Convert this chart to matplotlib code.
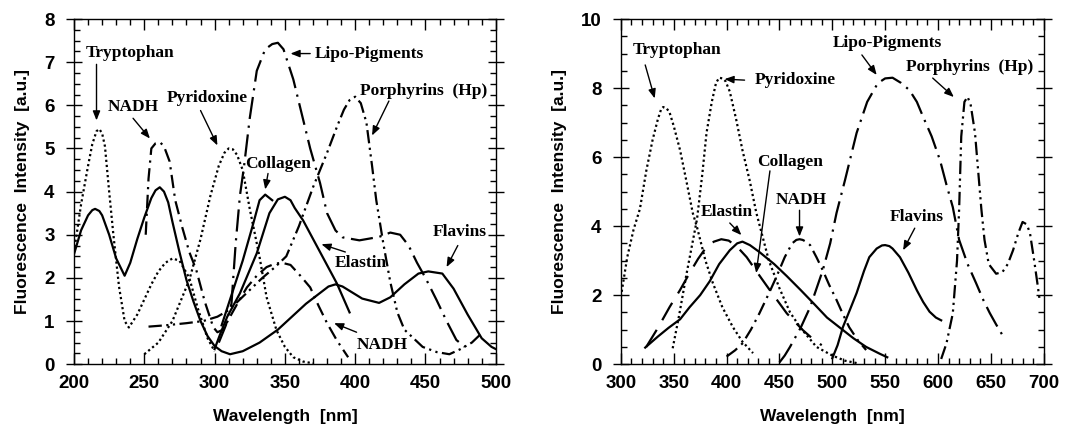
import numpy as np
import matplotlib.pyplot as plt
from matplotlib.ticker import MultipleLocator

# ---- left panel: absorption ----
trp_a_nm = [200, 205, 210, 213, 216, 218, 220, 222, 225, 228, 232, 236, 239, 245, 250, 255, 260, 265, 270, 275, 282, 288, 295, 300]
trp_a = [2.6, 3.7, 4.6, 5.1, 5.4, 5.45, 5.35, 5.05, 4.0, 3.0, 1.8, 1.0, 0.85, 1.15, 1.5, 1.85, 2.15, 2.35, 2.45, 2.4, 2.0, 1.3, 0.6, 0.3]

pyr_a_nm = [250, 260, 270, 282, 290, 297, 303, 307, 310, 313, 316, 320, 325, 332, 337, 344, 350, 356, 363, 370]
pyr_a = [0.23, 0.5, 1.0, 1.95, 2.9, 3.9, 4.6, 4.9, 5.0, 4.98, 4.85, 4.5, 3.6, 2.48, 1.55, 0.79, 0.4, 0.16, 0.06, 0.02]

nadh_a_nm = [251, 253, 255, 258, 261, 264, 268, 272, 277, 282, 287, 293, 299, 302, 306, 311, 317, 323, 330, 337, 343, 348, 354, 361, 368, 374, 380, 387, 395]
nadh_a = [3.0, 4.3, 5.0, 5.12, 5.15, 5.05, 4.7, 3.8, 3.17, 2.6, 2.18, 1.45, 0.86, 0.74, 0.8, 1.1, 1.45, 1.78, 2.05, 2.25, 2.33, 2.35, 2.3, 2.05, 1.78, 1.35, 0.95, 0.55, 0.16]

flav_a_nm = [200, 205, 210, 213, 215, 218, 220, 225, 230, 236, 240, 245, 250, 255, 258, 261, 264, 267, 270, 275, 280, 285, 290, 295, 300, 305, 311, 320, 332, 345, 355, 365, 375, 381, 386, 391, 395, 405, 417, 425, 435, 445, 452, 462, 470, 480, 490, 497, 500]
flav_a = [2.55, 3.1, 3.45, 3.57, 3.6, 3.55, 3.45, 3.0, 2.45, 2.05, 2.35, 2.9, 3.4, 3.85, 4.03, 4.1, 4.0, 3.75, 3.3, 2.6, 1.95, 1.45, 1.0, 0.65, 0.42, 0.3, 0.23, 0.3, 0.5, 0.8, 1.1, 1.4, 1.65, 1.8, 1.85, 1.8, 1.72, 1.52, 1.42, 1.55, 1.85, 2.1, 2.15, 2.1, 1.75, 1.15, 0.6, 0.4, 0.35]

coll_a_nm = [305, 312, 320, 327, 332, 336, 341]
coll_a = [0.9, 1.6, 2.4, 3.2, 3.8, 3.93, 3.8]

elas_a_nm = [300, 304, 309, 318, 330, 339, 345, 350, 354, 357, 363, 375, 387, 396]
elas_a = [0.35, 0.7, 1.1, 1.64, 2.57, 3.5, 3.82, 3.88, 3.8, 3.62, 3.33, 2.6, 1.87, 1.2]

lipo_a_nm = [303, 308, 312, 315, 318, 321, 325, 330, 336, 341, 345, 349, 352, 356, 362, 368, 375, 380, 386, 391, 403, 417, 425, 432, 438, 444, 450, 458, 465, 472, 478]
lipo_a = [0.5, 0.9, 1.4, 2.8, 3.9, 4.6, 5.7, 6.8, 7.3, 7.42, 7.45, 7.3, 7.0, 6.6, 5.8, 5.0, 4.2, 3.5, 3.1, 2.94, 2.87, 2.95, 3.05, 3.0, 2.75, 2.35, 2.0, 1.48, 1.0, 0.56, 0.4]

porph_a_nm = [253, 265, 280, 292, 302, 310, 318, 326, 334, 343, 351, 360, 370, 380, 387, 392, 396, 400, 404, 408, 412, 415, 420, 425, 430, 435, 448, 458, 467, 475, 483, 491]
porph_a = [0.87, 0.9, 0.95, 1.0, 1.1, 1.25, 1.5, 1.75, 2.0, 2.25, 2.5, 3.2, 4.1, 4.9, 5.5, 5.9, 6.12, 6.2, 6.05, 5.6, 4.6, 3.8, 2.8, 1.9, 1.2, 0.8, 0.4, 0.28, 0.23, 0.35, 0.5, 0.75]

# ---- right panel: emission ----
trp_e_nm = [300, 306, 312, 318, 324, 330, 335, 338, 340, 343, 346, 350, 356, 362, 368, 372, 380, 387, 396, 406, 415, 425]
trp_e = [1.95, 3.1, 3.9, 4.5, 5.6, 6.5, 7.1, 7.38, 7.45, 7.42, 7.3, 6.9, 6.2, 5.3, 4.38, 3.97, 3.0, 2.35, 1.65, 1.07, 0.65, 0.32]

pyr_e_nm = [349, 355, 362, 367, 372, 377, 381, 386, 390, 393, 396, 399, 403, 409, 415, 422, 428, 434, 440, 450, 460, 470, 485, 500, 512, 525]
pyr_e = [0.46, 1.4, 2.6, 3.4, 4.2, 5.5, 6.7, 7.6, 8.15, 8.3, 8.28, 8.2, 7.9, 7.1, 6.2, 5.3, 4.4, 3.7, 3.0, 2.2, 1.5, 1.05, 0.5, 0.25, 0.1, 0.02]

coll_e_nm = [324, 335, 346, 356, 365, 373, 381, 388, 395, 402, 410, 419, 428, 441, 457, 472, 482, 490]
coll_e = [0.5, 1.05, 1.65, 2.15, 2.64, 3.05, 3.4, 3.55, 3.62, 3.58, 3.4, 3.1, 2.7, 2.14, 1.47, 0.99, 0.72, 0.55]

elas_e_nm = [323, 335, 345, 356, 365, 375, 384, 393, 403, 410, 415, 422, 431, 445, 457, 470, 482, 495, 510, 520, 532, 545, 552]
elas_e = [0.48, 0.8, 1.05, 1.3, 1.65, 2.0, 2.4, 2.9, 3.3, 3.5, 3.55, 3.45, 3.25, 2.9, 2.55, 2.15, 1.77, 1.35, 0.99, 0.75, 0.5, 0.3, 0.2]

nadh_e_nm = [400, 408, 415, 423, 431, 440, 447, 455, 462, 466, 469, 472, 475, 479, 485, 491, 497, 504, 510, 516, 524, 532]
nadh_e = [0.22, 0.4, 0.6, 1.0, 1.47, 2.05, 2.52, 3.1, 3.5, 3.6, 3.62, 3.6, 3.55, 3.45, 3.1, 2.72, 2.3, 1.86, 1.45, 1.07, 0.7, 0.41]

flav_e_nm = [500, 505, 510, 517, 523, 530, 535, 542, 547, 550, 554, 557, 564, 572, 580, 586, 592, 598, 603]
flav_e = [0.17, 0.55, 1.07, 1.6, 2.06, 2.7, 3.1, 3.35, 3.44, 3.45, 3.42, 3.35, 3.1, 2.65, 2.14, 1.8, 1.52, 1.35, 1.27]

lipo_e_nm = [450, 455, 460, 470, 479, 491, 498, 504, 512, 523, 533, 543, 550, 557, 565, 573, 580, 586, 594, 602, 608, 614, 620, 628, 636, 643, 649, 655, 661]
lipo_e = [0.05, 0.25, 0.5, 1.05, 1.65, 2.72, 3.5, 4.38, 5.33, 6.7, 7.6, 8.14, 8.28, 8.3, 8.15, 7.94, 7.6, 7.16, 6.6, 5.9, 5.2, 4.55, 3.6, 2.9, 2.35, 1.85, 1.48, 1.15, 0.84]

porph_e_nm = [603, 608, 614, 618, 620, 622, 625, 628, 631, 635, 638, 641, 644, 648, 655, 661, 666, 671, 676, 680, 684, 687, 691, 694, 696]
porph_e = [0.15, 0.6, 1.47, 3.0, 4.5, 6.6, 7.6, 7.75, 7.5, 6.7, 5.6, 4.5, 3.6, 2.9, 2.62, 2.67, 2.9, 3.3, 3.8, 4.12, 4.05, 3.8, 3.0, 2.35, 1.9]

# line styles
DOT = (0, (1, 1.3))
DASHDOT = (0, (6, 2.5, 1, 2.5))
LONGDASH = (0, (9, 5))
LIPO = (0, (10, 3, 1, 3))
DASHDOTDOT = (0, (6, 2, 1, 2, 1, 2))

sans = ['Liberation Sans', 'DejaVu Sans']
serif = ['Liberation Serif', 'DejaVu Serif']

fig = plt.figure(figsize=(10.65, 4.33), dpi=100)
ax1 = fig.add_axes([0.0695, 0.159, 0.396, 0.797])
ax2 = fig.add_axes([0.583, 0.159, 0.397, 0.797])

lw = 1.6
k = 'black'
ax1.plot(trp_a_nm, trp_a, color=k, lw=lw, ls=DOT)
ax1.plot(pyr_a_nm, pyr_a, color=k, lw=lw, ls=DOT)
ax1.plot(nadh_a_nm, nadh_a, color=k, lw=lw, ls=DASHDOT)
ax1.plot(flav_a_nm, flav_a, color=k, lw=lw)
ax1.plot(coll_a_nm, coll_a, color=k, lw=lw)
ax1.plot(elas_a_nm, elas_a, color=k, lw=lw)
ax1.plot(lipo_a_nm, lipo_a, color=k, lw=lw, ls=LIPO)
ax1.plot(porph_a_nm, porph_a, color=k, lw=lw, ls=DASHDOTDOT)

ax2.plot(trp_e_nm, trp_e, color=k, lw=lw, ls=DOT)
ax2.plot(pyr_e_nm, pyr_e, color=k, lw=lw, ls=DOT)
ax2.plot(coll_e_nm, coll_e, color=k, lw=lw, ls=LONGDASH)
ax2.plot(elas_e_nm, elas_e, color=k, lw=lw)
ax2.plot(nadh_e_nm, nadh_e, color=k, lw=lw, ls=DASHDOT)
ax2.plot(flav_e_nm, flav_e, color=k, lw=lw)
ax2.plot(lipo_e_nm, lipo_e, color=k, lw=lw, ls=LIPO)
ax2.plot(porph_e_nm, porph_e, color=k, lw=lw, ls=DASHDOTDOT)

# labels: (text, text pos, arrow tail, arrow head)
left_notes = [
    ("Tryptophan", (240, 7.22), (216, 6.95), (216, 5.65)),
    ("NADH", (242, 5.95), (242, 5.7), (254, 5.23)),
    ("Pyridoxine", (295, 6.16), (290, 5.88), (302, 5.07)),
    ("Lipo-Pigments", (410, 7.2), (368, 7.2), (354, 7.2)),
    ("Porphyrins  (Hp)", (449, 6.34), (424, 6.1), (412, 5.3)),
    ("Collagen", (345, 4.65), (338, 4.42), (336, 4.05)),
    ("Elastin", (404, 2.34), (393, 2.6), (376, 2.78)),
    ("Flavins", (474, 3.06), (473, 2.75), (465, 2.25)),
    ("NADH", (419, 0.44), (401, 0.74), (385, 0.95)),
]
right_notes = [
    ("Tryptophan", (353, 9.1), (323, 8.67), (332, 7.7)),
    ("Pyridoxine", (465, 8.23), (417, 8.23), (398, 8.26)),
    ("Lipo-Pigments", (552, 9.3), (528, 8.96), (542, 8.38)),
    ("Porphyrins  (Hp)", (630, 8.6), (595, 8.29), (615, 7.74)),
    ("Collagen", (460, 5.86), (441, 5.6), (428, 2.64)),
    ("NADH", (471, 4.75), (469, 4.46), (469, 3.7)),
    ("Elastin", (400, 4.4), (403, 4.09), (414, 3.74)),
    ("Flavins", (580, 4.26), (578, 3.94), (567, 3.3)),
]

for ax, notes in ((ax1, left_notes), (ax2, right_notes)):
    for txt, tpos, tail, head in notes:
        ax.text(tpos[0], tpos[1], txt, ha='center', va='center', fontsize=12.5,
                fontweight='bold', family=serif)
        ax.annotate('', xy=head, xytext=tail,
                    arrowprops=dict(arrowstyle='-|>,head_length=0.55,head_width=0.22',
                                    color=k, lw=1.0, shrinkA=0, shrinkB=0))

ax1.set_xlim(200, 500)
ax1.set_ylim(0, 8)
ax1.xaxis.set_major_locator(MultipleLocator(50))
ax1.xaxis.set_minor_locator(MultipleLocator(10))
ax1.yaxis.set_major_locator(MultipleLocator(1))
ax1.yaxis.set_minor_locator(MultipleLocator(0.25))

ax2.set_xlim(300, 700)
ax2.set_ylim(0, 10)
ax2.xaxis.set_major_locator(MultipleLocator(50))
ax2.xaxis.set_minor_locator(MultipleLocator(10))
ax2.yaxis.set_major_locator(MultipleLocator(2))
ax2.yaxis.set_minor_locator(MultipleLocator(0.5))

for ax in (ax1, ax2):
    ax.tick_params(which='both', top=True, right=True, direction='in', width=1)
    ax.tick_params(which='major', length=8, labelsize=13.5, pad=8)
    ax.tick_params(which='minor', length=4)
    ax.tick_params(axis='y', which='major', direction='inout', length=12)
    for lab in ax.get_xticklabels() + ax.get_yticklabels():
        lab.set_fontweight('bold')
        lab.set_family(sans)
    for s in ax.spines.values():
        s.set_linewidth(1)
    ax.set_xlabel("Wavelength  [nm]", fontsize=12.5, fontweight='bold', family=sans, labelpad=12)
    ax.set_ylabel("Fluorescence  Intensity  [a.u.]", fontsize=12.5, fontweight='bold', family=sans, labelpad=10)

fig.savefig('out.png', dpi=100)
